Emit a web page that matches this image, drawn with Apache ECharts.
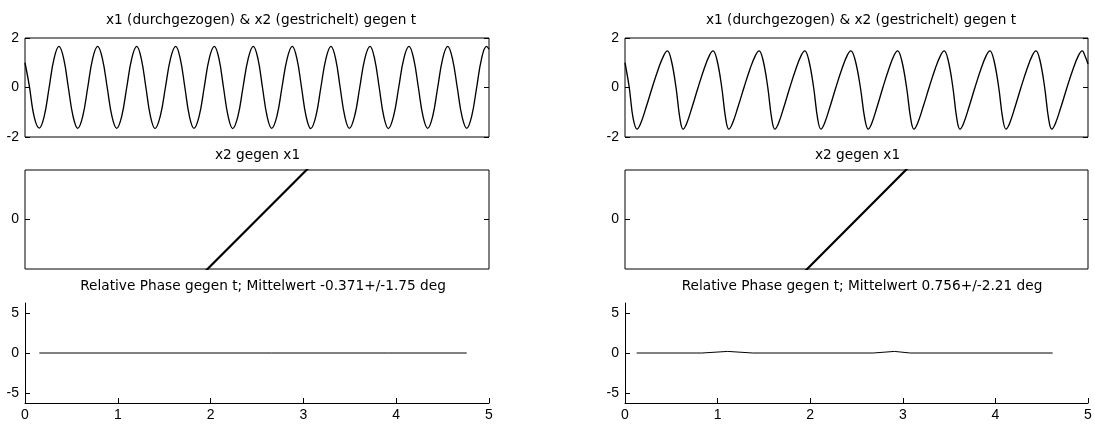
<!DOCTYPE html>
<html>
<head>
<meta charset="utf-8">
<script src="https://cdn.jsdelivr.net/npm/echarts@6/dist/echarts.min.js"></script>
<style>html,body{margin:0;padding:0;background:#fff}#c{width:1095px;height:426px}</style>
</head>
<body>
<div id="c"></div>
<script>
// ---------- DATA ----------
const titlesTop = ['x1 (durchgezogen) & x2 (gestrichelt) gegen t', 'x1 (durchgezogen) & x2 (gestrichelt) gegen t'];
const titlesMid = ['x2 gegen x1', 'x2 gegen x1'];
const titlesBot = ['Relative Phase gegen t; Mittelwert -0.371+/-1.75 deg', 'Relative Phase gegen t; Mittelwert 0.756+/-2.21 deg'];

const waveLeft = [
[0,1.0],[0.045,0.1],[0.1,-1.2],[0.154,-1.64],
[0.207,-1.17],[0.260,0],[0.313,1.17],[0.366,1.66],
[0.417,1.17],[0.467,0],[0.518,-1.17],[0.568,-1.65],
[0.622,-1.17],[0.676,0],[0.729,1.17],[0.783,1.66],
[0.834,1.17],[0.886,0],[0.937,-1.17],[0.988,-1.65],
[1.042,-1.17],[1.096,0],[1.150,1.17],[1.204,1.66],
[1.253,1.17],[1.303,0],[1.352,-1.17],[1.401,-1.66],
[1.457,-1.17],[1.513,0],[1.568,1.17],[1.624,1.66],
[1.673,1.17],[1.723,0],[1.772,-1.17],[1.821,-1.65],
[1.876,-1.17],[1.931,0],[1.985,1.17],[2.040,1.66],
[2.090,1.17],[2.139,0],[2.189,-1.17],[2.238,-1.66],
[2.294,-1.17],[2.349,0],[2.405,1.17],[2.460,1.66],
[2.510,1.17],[2.559,0],[2.609,-1.17],[2.658,-1.65],
[2.714,-1.17],[2.769,0],[2.825,1.17],[2.880,1.66],
[2.930,1.17],[2.980,0],[3.029,-1.17],[3.079,-1.66],
[3.134,-1.17],[3.188,0],[3.243,1.17],[3.297,1.66],
[3.347,1.17],[3.396,0],[3.446,-1.17],[3.495,-1.65],
[3.551,-1.17],[3.607,0],[3.662,1.17],[3.718,1.66],
[3.767,1.17],[3.817,0],[3.866,-1.17],[3.915,-1.66],
[3.971,-1.17],[4.027,0],[4.082,1.17],[4.138,1.66],
[4.188,1.17],[4.239,0],[4.289,-1.17],[4.339,-1.65],
[4.393,-1.17],[4.447,0],[4.501,1.17],[4.555,1.66],
[4.606,1.17],[4.658,0],[4.709,-1.17],[4.760,-1.65],
[4.813,-1.17],[4.867,0],[4.920,1.17],[4.973,1.66],
[5.0,1.55]
];

const waveRight = [
[0,1.0],[0.046,0],[0.088,-1.25],[0.130,-1.68],
[0.169,-1.45],[0.228,-0.8],[0.294,0],[0.360,0.75],[0.419,1.3],[0.458,1.48],
[0.500,1.1],[0.551,0],[0.593,-1.25],[0.627,-1.68],
[0.666,-1.45],[0.724,-0.8],[0.789,0],[0.854,0.75],[0.912,1.3],[0.951,1.48],
[0.994,1.1],[1.045,0],[1.087,-1.25],[1.121,-1.68],
[1.160,-1.45],[1.219,-0.8],[1.285,0],[1.350,0.75],[1.409,1.3],[1.448,1.48],
[1.491,1.1],[1.542,0],[1.584,-1.25],[1.618,-1.68],
[1.657,-1.45],[1.715,-0.8],[1.780,0],[1.845,0.75],[1.903,1.3],[1.942,1.48],
[1.985,1.1],[2.037,0],[2.080,-1.25],[2.115,-1.68],
[2.154,-1.45],[2.212,-0.8],[2.277,0],[2.342,0.75],[2.400,1.3],[2.439,1.48],
[2.486,1.1],[2.542,0],[2.589,-1.25],[2.626,-1.68],
[2.664,-1.45],[2.721,-0.8],[2.785,0],[2.849,0.75],[2.906,1.3],[2.944,1.48],
[2.988,1.1],[3.041,0],[3.085,-1.25],[3.120,-1.68],
[3.159,-1.45],[3.218,-0.8],[3.284,0],[3.349,0.75],[3.408,1.3],[3.447,1.48],
[3.490,1.1],[3.541,0],[3.583,-1.25],[3.617,-1.68],
[3.656,-1.45],[3.714,-0.8],[3.779,0],[3.844,0.75],[3.902,1.3],[3.941,1.48],
[3.984,1.1],[4.036,0],[4.079,-1.25],[4.114,-1.68],
[4.153,-1.45],[4.211,-0.8],[4.276,0],[4.341,0.75],[4.399,1.3],[4.438,1.48],
[4.481,1.1],[4.532,0],[4.574,-1.25],[4.608,-1.68],
[4.648,-1.45],[4.707,-0.8],[4.773,0],[4.839,0.75],[4.898,1.3],[4.938,1.48],
[4.970,1.25],[5.0,0.95]
];

const portraitLeft = [[-1.70,-1.72],[-1.0,-1.0],[0,0],[1.0,1.0],[1.70,1.72]];
const portraitRight = [[-1.70,-1.70],[-1.0,-1.0],[0,0],[1.0,1.0],[1.50,1.50]];

const phaseLeft = [[0.154,0],[1.401,0],[2.658,0],[3.915,0],[4.760,0]];
const phaseRight = [[0.126,0],[0.83,0],[1.11,0.2],[1.38,0],[2.68,0],[2.91,0.2],[3.08,0],[4.618,0]];

const waveTicks = [-2, 0, 2];
const portraitTicks = [0];
const phaseTicks = [-5, 0, 5];
const timeTicks = [0, 1, 2, 3, 4, 5];

// ---------- LAYOUT ----------
const colLeft = [25, 625];
const colWidth = [464, 463];
const rowTop = [38, 170, 303];
const rowHeight = [99, 99, 100];
const titleCenterX = [[261, 861], [257.5, 857.5], [263, 862]];
const titleCenterY = [20.5, 155, 286];

const waves = [waveLeft, waveRight];
const portraits = [portraitLeft, portraitRight];
const phases = [phaseLeft, phaseRight];

const labelFont = {color: '#000', fontFamily: 'Liberation Sans, Arial, sans-serif', fontSize: 14};
const grid = [], xAxis = [], yAxis = [], series = [], title = [];

function addTitle(text, x, y) {
  title.push({text, left: x, top: y, textAlign: 'center', textVerticalAlign: 'middle', padding: 0,
    textStyle: {fontFamily: 'DejaVu Sans, sans-serif', fontSize: 13.7, fontWeight: 'normal', color: '#000'}});
}
function tickAxis(gridIndex, min, max, pos, ticks, withLabels) {
  return {type: 'value', gridIndex, min, max, position: pos,
    axisLine: {show: false, onZero: false}, splitLine: {show: false},
    axisTick: {inside: true, length: 5, lineStyle: {color: '#000'}, customValues: ticks},
    axisLabel: withLabels ? Object.assign({margin: 6, customValues: ticks}, labelFont) : {show: false}};
}

for (let c = 0; c < 2; c++) {
  for (let r = 0; r < 3; r++) {
    grid.push({left: colLeft[c], top: rowTop[r], width: colWidth[c], height: rowHeight[r],
      show: r < 2, borderColor: '#000', borderWidth: 1, backgroundColor: 'transparent'});
  }
  const g0 = grid.length - 3;
  // ----- wave grid
  let xi = xAxis.length;
  xAxis.push({type: 'value', gridIndex: g0, min: 0, max: 5, show: false, axisLine: {onZero: false}});
  let yi = yAxis.length;
  yAxis.push(tickAxis(g0, -2, 2, 'left', waveTicks, true));
  yAxis.push(tickAxis(g0, -2, 2, 'right', waveTicks, false));
  series.push({type: 'line', xAxisIndex: xi, yAxisIndex: yi, data: waves[c], showSymbol: false,
    smooth: 0.4, clip: true, lineStyle: {color: '#000', width: 1.35}, silent: true});
  addTitle(titlesTop[c], titleCenterX[0][c], titleCenterY[0]);

  // ----- portrait grid
  xi = xAxis.length;
  xAxis.push({type: 'value', gridIndex: g0 + 1, min: -4.69, max: 4.69, show: false, axisLine: {onZero: false}});
  yi = yAxis.length;
  yAxis.push(tickAxis(g0 + 1, -1, 1, 'left', portraitTicks, true));
  yAxis.push(tickAxis(g0 + 1, -1, 1, 'right', portraitTicks, false));
  series.push({type: 'line', xAxisIndex: xi, yAxisIndex: yi, data: portraits[c], showSymbol: false,
    clip: true, lineStyle: {color: '#000', width: 2.2}, silent: true});
  addTitle(titlesMid[c], titleCenterX[1][c], titleCenterY[1]);

  // ----- phase grid
  xi = xAxis.length;
  xAxis.push({type: 'value', gridIndex: g0 + 2, min: 0, max: 5, interval: 1,
    axisLine: {show: true, onZero: false, lineStyle: {color: '#000', width: 1}}, splitLine: {show: false},
    axisTick: {inside: true, length: 5, lineStyle: {color: '#000'}, customValues: timeTicks},
    axisLabel: Object.assign({margin: 5, customValues: timeTicks}, labelFont)});
  yi = yAxis.length;
  const py = tickAxis(g0 + 2, -6.2832, 6.2832, 'left', phaseTicks, true);
  py.axisLine = {show: true, onZero: false, lineStyle: {color: '#000', width: 1}};
  yAxis.push(py);
  series.push({type: 'line', xAxisIndex: xi, yAxisIndex: yi, data: phases[c], showSymbol: false,
    clip: true, lineStyle: {color: '#000', width: 1}, silent: true});
  addTitle(titlesBot[c], titleCenterX[2][c], titleCenterY[2]);
}

const chart = echarts.init(document.getElementById('c'), null, {renderer: 'canvas'});
chart.setOption({animation: false, backgroundColor: '#fff', title, grid, xAxis, yAxis, series});
</script>
</body>
</html>
